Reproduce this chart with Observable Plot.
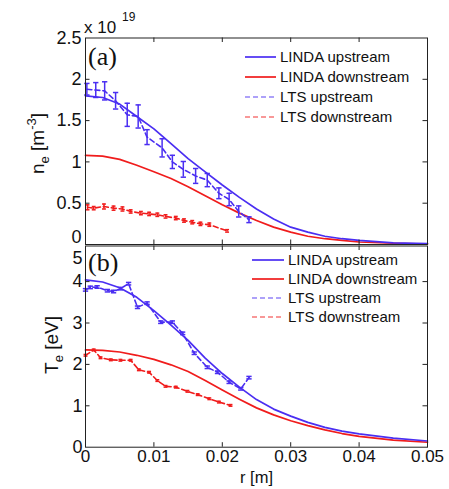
<!DOCTYPE html>
<html><head><meta charset="utf-8">
<script src="https://cdn.jsdelivr.net/npm/d3@7"></script>
<script src="https://cdn.jsdelivr.net/npm/@observablehq/plot@0.6"></script>
<style>
body{margin:0;background:#fff;}
#wrap{position:relative;width:449px;height:489px;font-family:"Liberation Sans",Arial,sans-serif;}
#wrap svg{position:absolute;left:0;}
</style></head><body><div id="wrap"></div>
<script>
// ---------- data ----------
const lindaR = [0,0.0025,0.005,0.0075,0.01,0.0125,0.015,0.0175,0.02,0.0225,0.025,0.0275,0.03,0.0325,0.035,0.0375,0.04,0.045,0.05];
const neLindaUp   = [1.80,1.78,1.70,1.55,1.40,1.22,1.04,0.88,0.72,0.57,0.43,0.31,0.21,0.15,0.10,0.07,0.05,0.02,0.01];
const neLindaDown = [1.08,1.07,1.03,0.96,0.88,0.80,0.70,0.59,0.48,0.38,0.29,0.21,0.15,0.10,0.07,0.05,0.03,0.015,0.005];
const teLindaUp   = [4.04,3.99,3.85,3.62,3.30,2.95,2.58,2.15,1.78,1.45,1.15,0.92,0.75,0.60,0.48,0.39,0.32,0.22,0.15];
const teLindaDown = [2.35,2.34,2.30,2.22,2.12,1.99,1.83,1.61,1.38,1.16,0.95,0.78,0.64,0.52,0.42,0.33,0.26,0.17,0.12];

const ltsNeUpR   = [0.0002,0.0015,0.0028,0.0044,0.0061,0.0077,0.0090,0.0112,0.0127,0.0143,0.0161,0.0178,0.0195,0.0210,0.0224,0.0239];
const ltsNeUp    = [1.88,1.87,1.86,1.74,1.57,1.55,1.30,1.17,1.00,0.91,0.83,0.78,0.62,0.545,0.40,0.30];
const ltsNeUpErr = [0.07,0.09,0.11,0.10,0.14,0.14,0.09,0.11,0.08,0.095,0.09,0.08,0.065,0.075,0.067,0.035];

const ltsNeDownR   = [0.0003,0.0012,0.0027,0.0041,0.0054,0.0066,0.0081,0.0093,0.0105,0.0117,0.0132,0.0144,0.0156,0.0168,0.0181,0.0207];
const ltsNeDown    = [0.45,0.44,0.46,0.44,0.43,0.40,0.38,0.37,0.36,0.34,0.32,0.29,0.27,0.25,0.24,0.165];
const ltsNeDownErr = [0.03,0.02,0.03,0.025,0.025,0.02,0.02,0.02,0.02,0.02,0.02,0.02,0.02,0.02,0.02,0.015];

const ltsTeUpR   = [0,0.0007,0.0017,0.0032,0.0041,0.0051,0.0063,0.0076,0.0090,0.0110,0.0127,0.0142,0.0159,0.0178,0.0193,0.0210,0.0227,0.0239];
const ltsTeUp    = [3.80,3.86,3.87,3.78,3.76,3.83,3.95,3.38,3.48,3.02,3.02,2.75,2.27,1.93,1.81,1.57,1.41,1.68];
const ltsTeUpErr = [0.03,0.03,0.03,0.03,0.03,0.03,0.03,0.03,0.03,0.03,0.03,0.03,0.03,0.03,0.03,0.03,0.03,0.03];

const ltsTeDownR   = [0,0.0012,0.0022,0.0037,0.0051,0.0066,0.0078,0.0093,0.0105,0.0117,0.0132,0.0149,0.0164,0.0181,0.0195,0.0212];
const ltsTeDown    = [2.22,2.35,2.16,2.11,2.10,2.10,1.87,1.81,1.61,1.47,1.45,1.35,1.27,1.17,1.09,1.01];
const ltsTeDownErr = [0.02,0.02,0.02,0.02,0.02,0.02,0.02,0.02,0.02,0.02,0.02,0.02,0.02,0.02,0.02,0.02];

const xTicks = [0,0.01,0.02,0.03,0.04,0.05];
const neTicks = [0,0.5,1,1.5,2,2.5];
const teTicks = [0,1,2,3,4,5];
const legendLabels = ["LINDA upstream","LINDA downstream","LTS upstream","LTS downstream"];

// ---------- styles ----------
const BLUE = "#4a2ef2", RED = "#f01c1c";
const FONT = "Liberation Sans, Arial, sans-serif";
const SERIF = "Liberation Serif, Times New Roman, serif";
const zip = (r, v, e) => r.map((x, i) => ({r: x, v: v[i], e: e ? e[i] : 0}));
const capSymbol = {draw(ctx, size){ const w = Math.sqrt(size) / 2; ctx.moveTo(-w, 0); ctx.lineTo(w, 0); }};

function dataMarks(lu, ld, up, dn) {
  return [
    Plot.line(ld, {x: "r", y: "v", stroke: RED, strokeWidth: 1.7}),
    Plot.line(lu, {x: "r", y: "v", stroke: BLUE, strokeWidth: 1.7}),
    Plot.line(dn, {x: "r", y: "v", stroke: RED, strokeWidth: 1.6, strokeDasharray: "5,3"}),
    Plot.ruleX(dn, {x: "r", y1: d => d.v - d.e, y2: d => d.v + d.e, stroke: RED, strokeWidth: 1.5}),
    Plot.dot(dn, {x: "r", y: d => d.v - d.e, symbol: capSymbol, r: 2.2, fill: "none", stroke: RED, strokeWidth: 1.5}),
    Plot.dot(dn, {x: "r", y: d => d.v + d.e, symbol: capSymbol, r: 2.2, fill: "none", stroke: RED, strokeWidth: 1.5}),
    Plot.line(up, {x: "r", y: "v", stroke: BLUE, strokeWidth: 1.6, strokeDasharray: "5,3"}),
    Plot.ruleX(up, {x: "r", y1: d => d.v - d.e, y2: d => d.v + d.e, stroke: BLUE, strokeWidth: 1.5}),
    Plot.dot(up, {x: "r", y: d => d.v - d.e, symbol: capSymbol, r: 3, fill: "none", stroke: BLUE, strokeWidth: 1.5}),
    Plot.dot(up, {x: "r", y: d => d.v + d.e, symbol: capSymbol, r: 3, fill: "none", stroke: BLUE, strokeWidth: 1.5})
  ];
}
function frameTicks(xt, yt, fw, fh) {
  const L = 4.5;
  return [
    Plot.frame({stroke: "#222", strokeWidth: 1}),
    Plot.tickX(xt, {x: d => d, insetTop: fh - L, stroke: "#222"}),
    Plot.tickX(xt, {x: d => d, insetBottom: fh - L, stroke: "#222"}),
    Plot.tickY(yt, {y: d => d, insetRight: fw - L, stroke: "#222"}),
    Plot.tickY(yt, {y: d => d, insetLeft: fw - L, stroke: "#222"})
  ];
}

const wrap = document.getElementById("wrap");
const FW = 342;

// ---------- top panel (a) ----------
const topH = 245, topMT = 37.5, topMB = 1;
const topSvg = Plot.plot({
  width: 449, height: topH,
  marginLeft: 85, marginRight: 22, marginTop: topMT, marginBottom: topMB,
  x: {domain: [0, 0.05], axis: null},
  y: {domain: [0, 2.5], axis: null},
  style: {fontFamily: FONT, color: "#111", background: "transparent", overflow: "visible"},
  marks: [
    ...dataMarks(zip(lindaR, neLindaUp), zip(lindaR, neLindaDown), zip(ltsNeUpR, ltsNeUp, ltsNeUpErr), zip(ltsNeDownR, ltsNeDown, ltsNeDownErr)),
    ...frameTicks(xTicks.slice(1, -1), neTicks.slice(1, -1), FW, topH - topMT - topMB),
    Plot.axisY(neTicks.slice(1), {tickSize: 0, tickPadding: 4, fontSize: 18, tickFormat: d => String(d), fill: "#111", label: null}),
    Plot.axisY([0], {tickSize: 0, tickPadding: 4, fontSize: 18, dy: -7, tickFormat: d => String(d), fill: "#111", label: null})
  ]
});
topSvg.style.top = "0px";
wrap.appendChild(topSvg);

// ---------- bottom panel (b) ----------
const botTop = 245, botH = 244, botMT = 0.5, botMB = 42.3;
const botSvg = Plot.plot({
  width: 449, height: botH,
  marginLeft: 85, marginRight: 22, marginTop: botMT, marginBottom: botMB,
  x: {domain: [0, 0.05], axis: null},
  y: {domain: [0, 4.86], axis: null},
  style: {fontFamily: FONT, color: "#111", background: "transparent", overflow: "visible"},
  marks: [
    ...dataMarks(zip(lindaR, teLindaUp), zip(lindaR, teLindaDown), zip(ltsTeUpR, ltsTeUp, ltsTeUpErr), zip(ltsTeDownR, ltsTeDown, ltsTeDownErr)),
    ...frameTicks(xTicks.slice(1, -1), teTicks.slice(1, -1), FW, botH - botMT - botMB),
    Plot.axisY(teTicks.slice(0, -1), {tickSize: 0, tickPadding: 3, fontSize: 18, tickFormat: d => String(d), fill: "#111", label: null}),
    Plot.axisY(teTicks.slice(-1), {tickSize: 0, tickPadding: 3, fontSize: 18, dy: 18, tickFormat: d => String(d), fill: "#111", label: null}),
    Plot.axisX(xTicks, {tickSize: 0, tickPadding: 3, fontSize: 17, tickFormat: d => d === 0 ? "0" : d.toFixed(2), fill: "#111", label: null}),
    Plot.text(["r [m]"], {frameAnchor: "bottom", dy: 36, fontSize: 16.5, fill: "#111"})
  ]
});
botSvg.style.top = botTop + "px";
wrap.appendChild(botSvg);

// ---------- annotations ----------
function addText(svg, x, y, txt, size, family) {
  return d3.select(svg).append("text").attr("x", x).attr("y", y)
    .attr("text-anchor", "start").attr("font-family", family || FONT)
    .attr("font-size", size).attr("fill", "#111").text(txt);
}
function yLabel(svg, x, y, main, sub, rest, sup, tail) {
  const t = d3.select(svg).append("text")
    .attr("transform", `translate(${x},${y}) rotate(-90)`)
    .attr("text-anchor", "middle").attr("font-family", FONT).attr("font-size", 19).attr("fill", "#111");
  t.append("tspan").text(main);
  t.append("tspan").attr("font-size", 13).attr("dy", 5).text(sub);
  t.append("tspan").attr("dy", -5).text(rest);
  if (sup) {
    t.append("tspan").attr("font-size", 13).attr("dy", -8).text(sup);
    t.append("tspan").attr("dy", 8).text(tail);
  }
}
yLabel(topSvg, 44, 143.5, "n", "e", " [m", "-3", "]");
yLabel(botSvg, 58, 345 - botTop, "T", "e", " [eV]");

addText(topSvg, 84, 33, "x 10", 17);
addText(topSvg, 122, 21, "19", 12);
addText(topSvg, 88, 65, "(a)", 26, SERIF);
addText(botSvg, 88, 271 - botTop, "(b)", 26, SERIF);

function legend(svg, x0, x1, tx, ys) {
  const g = d3.select(svg).append("g");
  const styles = [
    {c: BLUE, dash: null, op: 1}, {c: RED, dash: null, op: 1},
    {c: BLUE, dash: "5,3", op: 0.6}, {c: RED, dash: "5,3", op: 0.6}
  ];
  legendLabels.forEach((lab, i) => {
    const y = ys[i];
    g.append("line").attr("x1", x0).attr("x2", x1).attr("y1", y).attr("y2", y)
      .attr("stroke", styles[i].c).attr("stroke-width", 1.7).attr("stroke-opacity", styles[i].op)
      .attr("stroke-dasharray", styles[i].dash);
    g.append("text").attr("x", tx).attr("y", y + 5).attr("text-anchor", "start")
      .attr("font-family", FONT).attr("font-size", 15).attr("fill", "#111").text(lab);
  });
}
legend(topSvg, 245, 276, 280, [57, 77, 97, 117]);
legend(botSvg, 252, 284, 288, [15, 34, 53, 72]);
</script></body></html>
